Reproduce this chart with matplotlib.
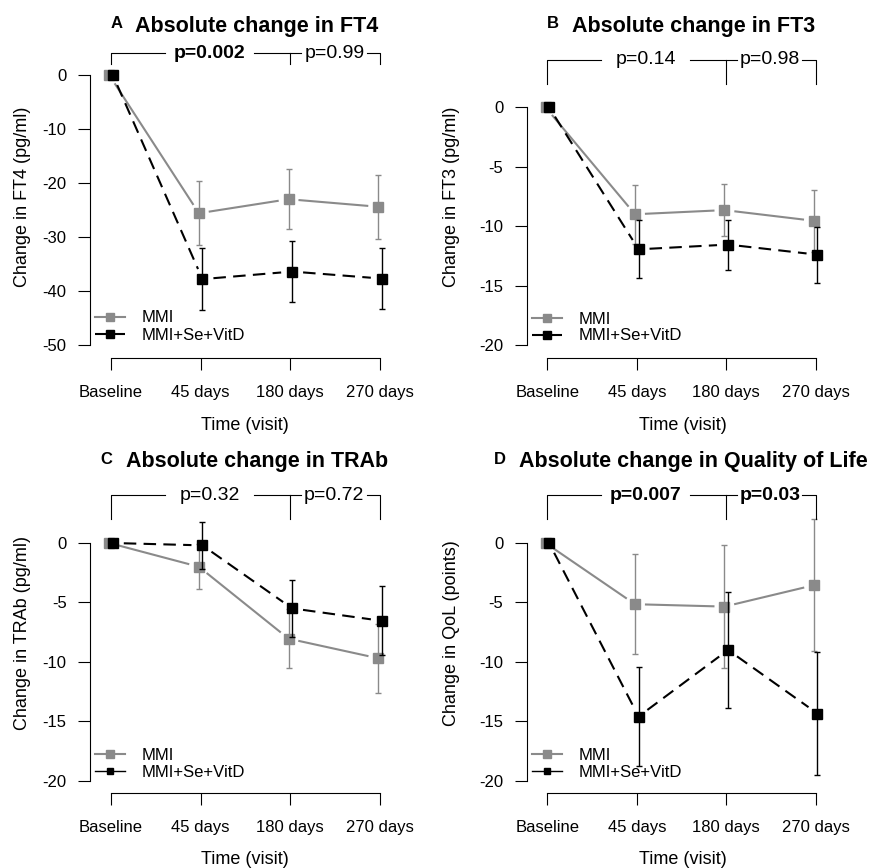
import numpy as np
import matplotlib
matplotlib.use('Agg')
import matplotlib.pyplot as plt
from matplotlib.lines import Line2D

plt.rcParams['font.family'] = ['Liberation Sans', 'DejaVu Sans']
plt.rcParams['axes.unicode_minus'] = False

visits = ['Baseline', '45 days', '180 days', '270 days']
groups = ['MMI', 'MMI+Se+VitD']

# A: FT4
ft4_mmi = [0, -25.6, -23.0, -24.4]
ft4_mmi_se = [0, 5.9, 5.6, 5.9]
ft4_combo = [0, -37.8, -36.4, -37.7]
ft4_combo_se = [0, 5.8, 5.6, 5.7]

# B: FT3
ft3_mmi = [0, -9.0, -8.65, -9.55]
ft3_mmi_se = [0, 2.5, 2.2, 2.6]
ft3_combo = [0, -11.95, -11.55, -12.4]
ft3_combo_se = [0, 2.45, 2.1, 2.35]

# C: TRAb
trab_mmi = [0, -2.0, -8.05, -9.7]
trab_mmi_se = [0, 1.9, 2.5, 2.9]
trab_combo = [0, -0.2, -5.5, -6.55]
trab_combo_se = [0, 2.0, 2.4, 2.9]

# D: QoL
qol_mmi = [0, -5.15, -5.35, -3.55]
qol_mmi_se = [0, 4.2, 5.2, 5.55]
qol_combo = [0, -14.6, -9.0, -14.35]
qol_combo_se = [0, 4.2, 4.9, 5.2]

GRAY = '#8a8a8a'
W, H = 870, 868

panels = [
    dict(letter='A', title='Absolute change in FT4', ylabel='Change in FT4 (pg/ml)',
         mmi=ft4_mmi, mmi_se=ft4_mmi_se, combo=ft4_combo, combo_se=ft4_combo_se,
         yticks=[0, -10, -20, -30, -40, -50],
         pvals=['p=0.002', 'p=0.99'], pbold=[True, False],
         # pixel geometry
         yaxis_x=90, x0=111, x3=380, yref=(0, 75, -50, 345), xaxis_y=358,
         title_xy=(257, 31.7), ylab_xy=(23, 196.5), xlab_xy=(245, 425),
         leg_xy=(95, 326.5), thin_leg=False),
    dict(letter='B', title='Absolute change in FT3', ylabel='Change in FT3 (pg/ml)',
         mmi=ft3_mmi, mmi_se=ft3_mmi_se, combo=ft3_combo, combo_se=ft3_combo_se,
         yticks=[0, -5, -10, -15, -20],
         pvals=['p=0.14', 'p=0.98'], pbold=[False, False],
         yaxis_x=526.7, x0=547.3, x3=815.7, yref=(0, 107.3, -20, 345), xaxis_y=357.7,
         title_xy=(693.7, 31.7), ylab_xy=(452, 196.5), xlab_xy=(682.5, 425),
         leg_xy=(532, 327.5), thin_leg=False),
    dict(letter='C', title='Absolute change in TRAb', ylabel='Change in TRAb (pg/ml)',
         mmi=trab_mmi, mmi_se=trab_mmi_se, combo=trab_combo, combo_se=trab_combo_se,
         yticks=[0, -5, -10, -15, -20],
         pvals=['p=0.32', 'p=0.72'], pbold=[False, False],
         yaxis_x=90, x0=111, x3=380, yref=(0, 543, -20, 780.7), xaxis_y=793,
         title_xy=(257, 467.3), ylab_xy=(23, 633), xlab_xy=(245, 859),
         leg_xy=(95, 763.7), thin_leg=True),
    dict(letter='D', title='Absolute change in Quality of Life', ylabel='Change in QoL (points)',
         mmi=qol_mmi, mmi_se=qol_mmi_se, combo=qol_combo, combo_se=qol_combo_se,
         yticks=[0, -5, -10, -15, -20],
         pvals=['p=0.007', 'p=0.03'], pbold=[True, True],
         yaxis_x=526.7, x0=547.3, x3=815.7, yref=(0, 543, -20, 780.7), xaxis_y=793,
         title_xy=(693, 467.3), ylab_xy=(452, 633), xlab_xy=(682.5, 859),
         leg_xy=(532, 764), thin_leg=True),
]


def gapped_line(ax, xs, ys, gap=11, **kw):
    # R type="b": segments stop short of the points
    pts = ax.transData.transform(np.column_stack([xs, ys]))
    inv = ax.transData.inverted()
    for a, b in zip(pts[:-1], pts[1:]):
        d = b - a
        n = np.hypot(*d)
        if n <= 2 * gap:
            continue
        u = d / n
        seg = inv.transform(np.array([a + u * gap, b - u * gap]))
        ax.plot(seg[:, 0], seg[:, 1], clip_on=False, **kw)


fig = plt.figure(figsize=(W / 100, H / 100), dpi=100)

for p in panels:
    left, right = p['yaxis_x'], p['x3'] + 30
    top, bottom = 40 if p['letter'] in 'AB' else 475, p['xaxis_y']
    ax = fig.add_axes([left / W, 1 - bottom / H, (right - left) / W, (bottom - top) / H])
    sx = 3 / (p['x3'] - p['x0'])
    ax.set_xlim((left - p['x0']) * sx, (right - p['x0']) * sx)
    v1, p1, v2, p2 = p['yref']
    sy = (v1 - v2) / (p2 - p1)
    ax.set_ylim(v1 - (bottom - p1) * sy, v1 + (p1 - top) * sy)
    ax.patch.set_visible(False)

    for s in ['top', 'right']:
        ax.spines[s].set_visible(False)
    ax.spines['left'].set_bounds(min(p['yticks']), max(p['yticks']))
    ax.spines['bottom'].set_bounds(0, 3)
    for s in ['left', 'bottom']:
        ax.spines[s].set_linewidth(0.8)

    ax.set_xticks(range(4))
    ax.set_xticklabels(visits)
    ax.set_yticks(p['yticks'])
    ax.set_yticklabels([str(v) for v in p['yticks']])
    ax.tick_params(axis='x', length=8.4, width=0.8, pad=11, labelsize=12)
    ax.tick_params(axis='y', length=8.4, width=0.8, pad=8.5, labelsize=12)

    x = np.arange(4)
    series = [(p['mmi'], p['mmi_se'], GRAY, '-', -0.02, 2),
              (p['combo'], p['combo_se'], 'black', (0, (6, 3.5)), 0.02, 3)]
    for vals, se, col, ls, dx, z in series:
        xs = x + dx
        gapped_line(ax, xs, vals, color=col, lw=1.5, ls=ls, zorder=z)
        ax.errorbar(xs[1:], vals[1:], yerr=se[1:], fmt='none', ecolor=col,
                    elinewidth=1, capsize=2.5, capthick=1, zorder=z, clip_on=False)
        ax.plot(xs, vals, 's', color=col, ms=6.5, zorder=z + 0.5, clip_on=False)

    # comparison brackets
    yb, yt = 4, 2
    bk = dict(color='black', lw=0.8, clip_on=False)
    ax.plot([0, 0, 0.6], [yt, yb, yb], **bk)
    ax.plot([1.6, 2.12], [yb, yb], **bk)
    ax.plot([2, 2], [yb, yt], **bk)
    ax.plot([2.85, 3, 3], [yb, yb, yt], **bk)
    for xp, txt, bold in zip([1.1, 2.49], p['pvals'], p['pbold']):
        ax.text(xp, yb, txt, ha='center', va='center', fontsize=14,
                fontweight='bold' if bold else 'normal')

    # legend
    if p['thin_leg']:
        h2 = Line2D([], [], color='black', lw=1, marker='s', ms=4.5)
    else:
        h2 = Line2D([], [], color='black', lw=1.5, ls=(0, (6, 3.5)), marker='s', ms=5.5)
    h1 = Line2D([], [], color=GRAY, lw=1.5, marker='s', ms=5.5)
    lx, ly = p['leg_xy']
    ax.legend([h1, h2], groups, loc='center left', bbox_to_anchor=(lx / W, 1 - ly / H),
              bbox_transform=fig.transFigure, frameon=False, handlelength=1.8,
              handletextpad=1.0, labelspacing=0.12, borderpad=0, borderaxespad=0,
              fontsize=12)

    tx, ty = p['title_xy']
    t = fig.text(tx / W, 1 - ty / H, p['title'], ha='center', va='baseline',
                 fontsize=15.5, fontweight='bold')
    ax.annotate(p['letter'], xy=(0, 1), xycoords=t, xytext=(-9.5, -0.5),
                textcoords='offset points', ha='right', va='top',
                fontsize=12, fontweight='bold')

    yx, yy = p['ylab_xy']
    fig.text(yx / W, 1 - yy / H, p['ylabel'], rotation=90, ha='center', va='center',
             fontsize=13)
    xx, xy = p['xlab_xy']
    fig.text(xx / W, 1 - xy / H, 'Time (visit)', ha='center', va='center', fontsize=13)

fig.savefig('out.png', dpi=100)
